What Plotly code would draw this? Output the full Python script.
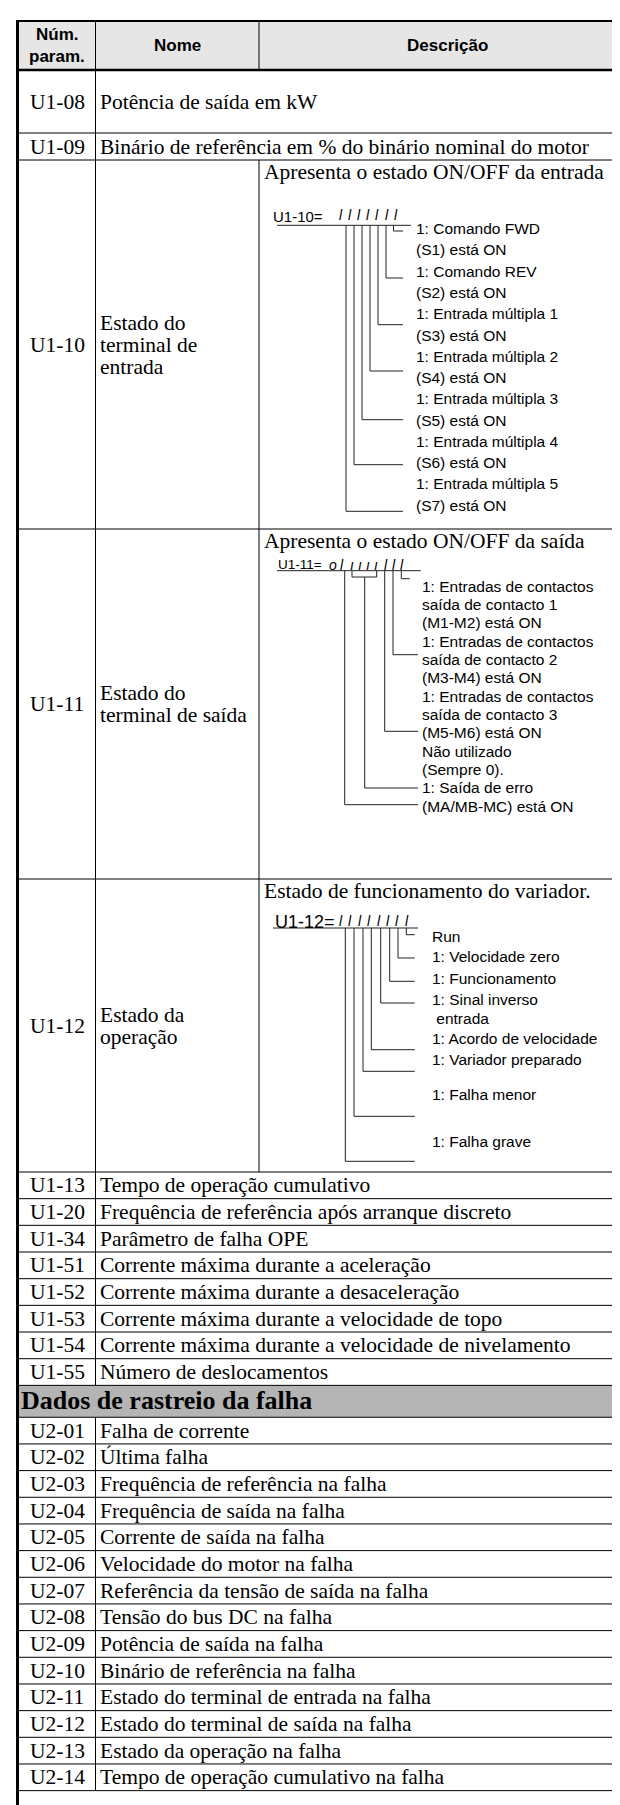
import plotly.graph_objects as go

# ---------------- data ----------------
header_code = ["Núm.", "param."]
header_name = "Nome"
header_desc = "Descrição"

wide_codes = ["U1-08", "U1-09"]
wide_desc = ["Potência de saída em kW",
             "Binário de referência em % do binário nominal do motor"]

diag_codes = ["U1-10", "U1-11", "U1-12"]
diag_names = [["Estado do", "terminal de", "entrada"],
              ["Estado do", "terminal de saída"],
              ["Estado da", "operação"]]
diag_titles = ["Apresenta o estado ON/OFF da entrada",
               "Apresenta o estado ON/OFF da saída",
               "Estado de funcionamento do variador."]
diag_prefix = ["U1-10=", "U1-11=", "U1-12="]
u110_digits = ["l", "l", "l", "l", "l", "l", "l"]
u111_digits = ["o", "l", "ı", "ı", "ı", "ı", "l", "l", "l"]
u112_digits = ["l", "l", "l", "l", "l", "l", "l", "l"]

u110_labels = ["1: Comando FWD", "(S1) está ON",
               "1: Comando REV", "(S2) está ON",
               "1: Entrada múltipla 1", "(S3) está ON",
               "1: Entrada múltipla 2", "(S4) está ON",
               "1: Entrada múltipla 3", "(S5) está ON",
               "1: Entrada múltipla 4", "(S6) está ON",
               "1: Entrada múltipla 5", "(S7) está ON"]
u111_labels = ["1: Entradas de contactos", "saída de contacto 1", "(M1-M2) está ON",
               "1: Entradas de contactos", "saída de contacto 2", "(M3-M4) está ON",
               "1: Entradas de contactos", "saída de contacto 3", "(M5-M6) está ON",
               "Não utilizado", "(Sempre 0).",
               "1: Saída de erro", "(MA/MB-MC) está ON"]
u112_labels = ["Run", "1: Velocidade zero", "1: Funcionamento", "1: Sinal inverso",
               " entrada", "1: Acordo de velocidade", "1: Variador preparado",
               "1: Falha menor", "1: Falha grave"]

u1_codes = ["U1-13", "U1-20", "U1-34", "U1-51", "U1-52", "U1-53", "U1-54", "U1-55"]
u1_names = ["Tempo de operação cumulativo",
            "Frequência de referência após arranque discreto",
            "Parâmetro de falha OPE",
            "Corrente máxima durante a aceleração",
            "Corrente máxima durante a desaceleração",
            "Corrente máxima durante a velocidade de topo",
            "Corrente máxima durante a velocidade de nivelamento",
            "Número de deslocamentos"]
section_title = "Dados de rastreio da falha"
u2_codes = ["U2-01", "U2-02", "U2-03", "U2-04", "U2-05", "U2-06", "U2-07",
            "U2-08", "U2-09", "U2-10", "U2-11", "U2-12", "U2-13", "U2-14"]
u2_names = ["Falha de corrente", "Última falha",
            "Frequência de referência na falha",
            "Frequência de saída na falha",
            "Corrente de saída na falha",
            "Velocidade do motor na falha",
            "Referência da tensão de saída na falha",
            "Tensão do bus DC na falha",
            "Potência de saída na falha",
            "Binário de referência na falha",
            "Estado do terminal de entrada na falha",
            "Estado do terminal de saída na falha",
            "Estado da operação na falha",
            "Tempo de operação cumulativo na falha"]

# ---------------- layout constants ----------------
W, H = 620, 1805
X_L, X_C1, X_C2, X_R = 9.5, 87.5, 251, 620
Y_TOP, Y_HEAD = 13, 62
WIDE_H = [63, 27]
DIAG_H = [369, 350, 293]
ROW_H = 26.67
SEC_H = 31.9
SERIF = "Liberation Serif, Times New Roman, serif"
SANS = "Liberation Sans, Arial, sans-serif"
BODY = 21.5
LAB = 15.5
LINE = "#000000"
DLINE = "#222222"

shapes = []
ann = []


def hline(x0, x1, y, w=1, c=LINE):
    shapes.append(dict(type="line", xref="x", yref="y", x0=x0, x1=x1, y0=y, y1=y,
                       line=dict(color=c, width=w)))


def vline(x, y0, y1, w=1, c=LINE):
    shapes.append(dict(type="line", xref="x", yref="y", x0=x, x1=x, y0=y0, y1=y1,
                       line=dict(color=c, width=w)))


def text(x, y, s, size=BODY, fam=SERIF, anchor="left", bold=False, italic=False, color="#000"):
    if bold:
        s = "<b>" + s + "</b>"
    if italic:
        s = "<i>" + s + "</i>"
    ann.append(dict(x=x, y=y, xref="x", yref="y", text=s, showarrow=False,
                    xanchor=anchor, yanchor="middle", borderpad=0,
                    font=dict(family=fam, size=size, color=color)))


# header
shapes.append(dict(type="rect", xref="x", yref="y", x0=X_L, x1=X_R, y0=Y_TOP, y1=Y_HEAD,
                   fillcolor="#e6e6e6", line=dict(width=0), layer="below"))
hline(X_L, X_R, Y_TOP, w=2.2)
hline(X_L, X_R, Y_HEAD, w=2.6)
xc0 = (X_L + X_C1) / 2 + 0.5
text(xc0, 26, header_code[0], size=17, fam=SANS, anchor="center", bold=True)
text(xc0, 48, header_code[1], size=17, fam=SANS, anchor="center", bold=True)
text((X_C1 + X_C2) / 2, 37, header_name, size=17, fam=SANS, anchor="center", bold=True)
text(439, 37, header_desc, size=17, fam=SANS, anchor="center", bold=True)
vline(X_C1, Y_TOP, Y_HEAD)
vline(X_C2, Y_TOP, Y_HEAD)

y = Y_HEAD
# wide rows
for code, desc, h in zip(wide_codes, wide_desc, WIDE_H):
    text(xc0, y + h / 2, code, anchor="center")
    text(X_C1 + 3.5, y + h / 2, desc)
    vline(X_C1, y, y + h)
    y += h
    hline(X_L, X_R, y)

# diagram rows
diag_tops = []
for code, names, title, h in zip(diag_codes, diag_names, diag_titles, DIAG_H):
    diag_tops.append(y)
    yc = y + h / 2
    text(xc0, yc, code, anchor="center")
    n = len(names)
    for i, nm in enumerate(names):
        text(X_C1 + 3.5, yc + (i - (n - 1) / 2) * 22, nm)
    text(X_C2 + 3.5, y + 11.5, title)
    vline(X_C1, y, y + h)
    vline(X_C2, y, y + h)
    y += h
    hline(X_L, X_R, y)

# ---- U1-10 diagram ----
t = diag_tops[0]
text(264, t + 56, diag_prefix[0], size=15, fam=SANS)
lead10_x = [385.5, 378, 370, 362, 354, 346, 338]
lead10_y = [71, 118, 164.7, 211, 259.7, 304.7, 351.3]
for k, d in enumerate(u110_digits):
    text(333 + 9.1 * k, t + 55, d, size=14, fam=SANS, anchor="center", italic=True)
hline(269, 403, t + 65.3, c=DLINE)
for lx, ly in zip(lead10_x, lead10_y):
    vline(lx, t + 65.3, t + ly, c=DLINE)
    hline(lx, 395, t + ly, c=DLINE)
for i, lab in enumerate(u110_labels):
    text(407, t + 68.7 + i * 21.27, lab, size=LAB, fam=SANS)

# ---- U1-11 diagram ----
t = diag_tops[1]
text(269, t + 35.5, diag_prefix[1], size=13.5, fam=SANS)
dig11_x = [325, 333.5, 343.5, 351.5, 359.5, 367.5, 378, 386, 394]
for d, dx in zip(u111_digits, dig11_x):
    text(dx, t + 36, d, size=14, fam=SANS, anchor="center", italic=True)
ul = t + 41.7
hline(269, 412.7, ul, c=DLINE)
# bit0 .. bit2
lead11 = [(393.3, 49.7, 401.7), (385, 125.7, 410), (376.7, 202.3, 410)]
for lx, ly, xe in lead11:
    vline(lx, ul, t + ly, c=DLINE)
    hline(lx, xe, t + ly, c=DLINE)
# bracket for unused bits
vline(344, ul, t + 48, c=DLINE)
vline(368.7, ul, t + 48, c=DLINE)
hline(344, 368.7, t + 48, c=DLINE)
vline(356.7, t + 48, t + 259, c=DLINE)
hline(356.7, 410, t + 259, c=DLINE)
# bit7
vline(336.7, ul, t + 275.7, c=DLINE)
hline(336.7, 410, t + 275.7, c=DLINE)
for i, lab in enumerate(u111_labels):
    text(413.3, t + 57.3 + i * 18.33, lab, size=LAB, fam=SANS)

# ---- U1-12 diagram ----
t = diag_tops[2]
text(266, t + 42.5, diag_prefix[2], size=18, fam=SANS)
lead12_x = [398.3, 390, 381.7, 372.7, 363.3, 355, 346, 337.3]
lead12_y = [55.7, 79, 102.3, 124, 170.7, 192.3, 237.3, 282.3]
for k, d in enumerate(u112_digits):
    text(333 + 9.4 * k, t + 41.5, d, size=14, fam=SANS, anchor="center", italic=True)
ul = t + 49
hline(265, 410, ul, c=DLINE)
for lx, ly in zip(lead12_x, lead12_y):
    vline(lx, ul, t + ly, c=DLINE)
    hline(lx, 406.7, t + ly, c=DLINE)
lab12_y = [57.3, 77.3, 99, 120.7, 139.7, 159, 180.7, 215.7, 262]
for lab, ly in zip(u112_labels, lab12_y):
    text(422.7, t + ly, lab, size=LAB, fam=SANS)

# ---- simple U1 rows ----
for code, nm in zip(u1_codes, u1_names):
    text(xc0, y + ROW_H / 2, code, anchor="center")
    text(X_C1 + 3.5, y + ROW_H / 2, nm)
    vline(X_C1, y, y + ROW_H)
    y += ROW_H
    hline(X_L, X_R, y)

# ---- section header ----
shapes.append(dict(type="rect", xref="x", yref="y", x0=X_L, x1=X_R, y0=y, y1=y + SEC_H,
                   fillcolor="#b4b4b4", line=dict(width=0), layer="below"))
text(11.5, y + SEC_H / 2 - 1, section_title, size=26, fam=SERIF, bold=True)
y += SEC_H
hline(X_L, X_R, y)

# ---- U2 rows ----
for code, nm in zip(u2_codes, u2_names):
    text(xc0, y + ROW_H / 2, code, anchor="center")
    text(X_C1 + 3.5, y + ROW_H / 2, nm)
    vline(X_C1, y, y + ROW_H)
    y += ROW_H
    hline(X_L, X_R, y)

# left border
vline(X_L, Y_TOP - 1, H, w=3)

fig = go.Figure()
fig.add_trace(go.Scatter(x=[0, W], y=[0, H], mode="markers",
                         marker=dict(opacity=0), hoverinfo="skip", showlegend=False))
fig.update_layout(
    width=W, height=H, margin=dict(l=0, r=0, t=0, b=0),
    paper_bgcolor="white", plot_bgcolor="white",
    xaxis=dict(range=[0, W], visible=False, fixedrange=True),
    yaxis=dict(range=[H, 0], visible=False, fixedrange=True),
    shapes=shapes, annotations=ann, showlegend=False,
)
fig.write_html("out.html")
